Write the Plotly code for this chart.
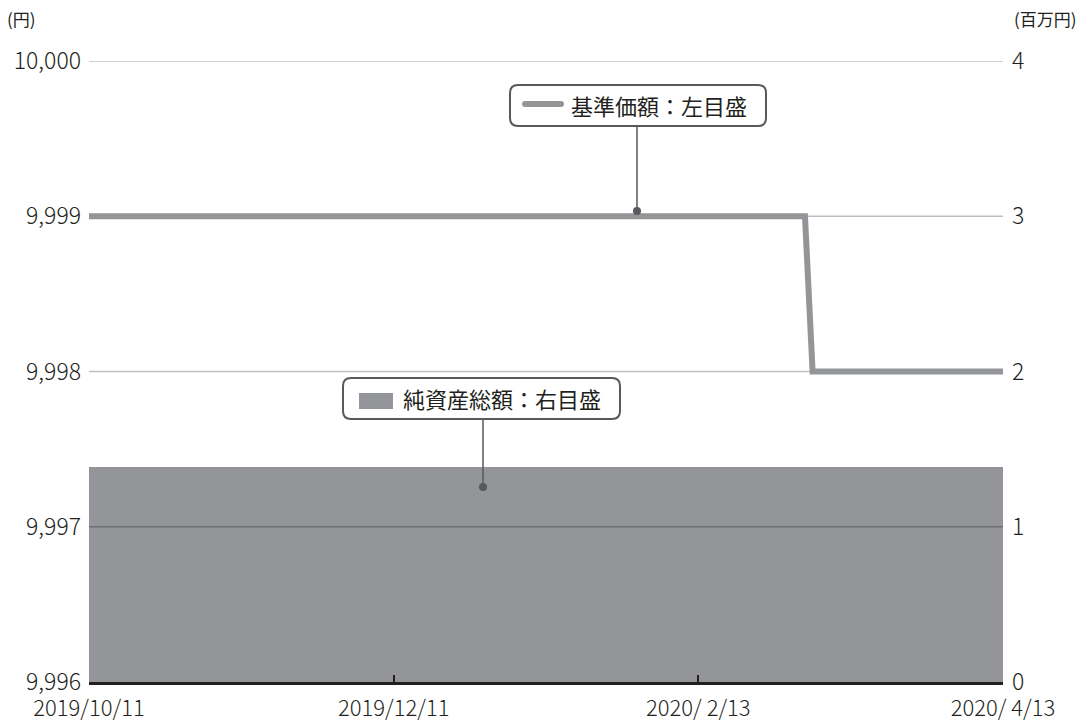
import pandas as pd
import plotly.graph_objects as go

# ---------------- data ----------------
start_date = "2019-10-11"
end_date = "2020-04-13"
market_holidays = ["2019-10-14", "2019-11-04", "2019-11-25", "2019-12-31",
                   "2020-01-01", "2020-01-02", "2020-01-03", "2020-01-13",
                   "2020-02-11", "2020-02-24", "2020-03-20"]
# 基準価額 (円): level held from each change date onward
nav_change_dates = ["2019-10-11", "2020-03-06"]
nav_levels = [9999, 9998]
# 純資産総額 (百万円): flat over the period
net_assets_level = 1.385

tick_dates = ["2019-10-11", "2019-12-11", "2020-02-13", "2020-04-13"]
tick_labels = ["2019/10/11", "2019/12/11", "2020/ 2/13", "2020/ 4/13"]
left_ticks = [9996, 9997, 9998, 9999, 10000]
right_ticks = [0, 1, 2, 3, 4]

# ---------------- build series ----------------
dates = [d.strftime("%Y-%m-%d") for d in pd.bdate_range(start_date, end_date)
         if d.strftime("%Y-%m-%d") not in market_holidays]
nav = []
for d in dates:
    lvl = nav_levels[0]
    for cd, lv in zip(nav_change_dates, nav_levels):
        if d >= cd:
            lvl = lv
    nav.append(lvl)
net_assets = [net_assets_level for _ in dates]

grid_x, grid_y = [], []
for t in right_ticks[1:]:
    grid_x += [dates[0], dates[-1], None]
    grid_y += [t, t, None]

# ---------------- styling helpers ----------------
W, H = 1085, 721
L, R, T, B = 89, 82, 61, 39
PW, PH = W - L - R, H - T - B
GRAY = "#939598"
DARK = "#231f20"
BOX = "#58595b"
FONT = "Noto Sans CJK JP"


def px(x):
    return (x - L) / PW


def py(y):
    return (H - B - y) / PH


def rounded_rect(x0, y0, x1, y1, r):
    X0, X1 = px(x0), px(x1)
    Y0, Y1 = py(y0), py(y1)
    rx, ry = r / PW, r / PH
    return (f"M{X0+rx},{Y0} L{X1-rx},{Y0} Q{X1},{Y0} {X1},{Y0-ry} "
            f"L{X1},{Y1+ry} Q{X1},{Y1} {X1-rx},{Y1} L{X0+rx},{Y1} "
            f"Q{X0},{Y1} {X0},{Y1+ry} L{X0},{Y0-ry} Q{X0},{Y0} {X0+rx},{Y0} Z")


fig = go.Figure()
fig.add_trace(go.Scatter(x=dates, y=net_assets, mode="lines", fill="tozeroy",
                         fillcolor=GRAY, line=dict(width=0, color=GRAY),
                         yaxis="y", hoverinfo="skip", showlegend=False))
fig.add_trace(go.Scatter(x=grid_x, y=grid_y, mode="lines",
                         line=dict(width=1.5, color="rgba(0,0,0,0.25)"),
                         yaxis="y", hoverinfo="skip", showlegend=False))
fig.add_trace(go.Scatter(x=dates, y=nav, mode="lines",
                         line=dict(width=6, color=GRAY),
                         yaxis="y2", hoverinfo="skip", showlegend=False))

shapes = []
# legend boxes
shapes.append(dict(type="path", xref="paper", yref="paper",
                   path=rounded_rect(510, 85, 766, 126, 8),
                   line=dict(color=BOX, width=2), fillcolor="white", layer="above"))
shapes.append(dict(type="path", xref="paper", yref="paper",
                   path=rounded_rect(343, 378, 620, 419, 8),
                   line=dict(color=BOX, width=2), fillcolor="white", layer="above"))
# legend symbols
shapes.append(dict(type="path", xref="paper", yref="paper",
                   path=rounded_rect(522, 101, 564, 107, 3),
                   line=dict(width=0), fillcolor=GRAY, layer="above"))
shapes.append(dict(type="rect", xref="paper", yref="paper",
                   x0=px(359), x1=px(393), y0=py(393), y1=py(409),
                   line=dict(width=0), fillcolor=GRAY, layer="above"))
# callouts
for (cx, ya, yb) in [(637, 126, 211), (483, 419, 487)]:
    shapes.append(dict(type="line", xref="paper", yref="paper",
                       x0=px(cx), x1=px(cx), y0=py(ya), y1=py(yb),
                       line=dict(color=BOX, width=1.5), layer="above"))
    shapes.append(dict(type="circle", xref="paper", yref="paper",
                       x0=px(cx - 4), x1=px(cx + 4), y0=py(yb - 4), y1=py(yb + 4),
                       line=dict(width=0), fillcolor=BOX, layer="above"))

annotations = [
    dict(text="基準価額：左目盛", xref="paper", yref="paper", x=px(569), y=py(105),
         xanchor="left", yanchor="middle", showarrow=False,
         font=dict(family=FONT, size=22, color=DARK)),
    dict(text="純資産総額：右目盛", xref="paper", yref="paper", x=px(401), y=py(398),
         xanchor="left", yanchor="middle", showarrow=False,
         font=dict(family=FONT, size=22, color=DARK)),
    dict(text="(円)", xref="paper", yref="paper", x=px(5), y=py(19),
         xanchor="left", yanchor="middle", showarrow=False,
         font=dict(family=FONT, size=17, color=DARK)),
    dict(text="(百万円)", xref="paper", yref="paper", x=px(1079), y=py(19),
         xanchor="right", yanchor="middle", showarrow=False,
         font=dict(family=FONT, size=17, color=DARK)),
]

ytickfont = dict(family=FONT, size=23, color=DARK, weight=300)
xtickfont = dict(family=FONT, size=22, color=DARK, weight=300)
fig.update_layout(
    width=W, height=H,
    margin=dict(l=L, r=R, t=T, b=B, pad=0, autoexpand=False),
    paper_bgcolor="white", plot_bgcolor="white",
    hovermode=False, showlegend=False,
    xaxis=dict(type="category", range=[0, len(dates) - 1],
               tickmode="array", tickvals=tick_dates, ticktext=tick_labels,
               ticks="inside", ticklen=7, tickwidth=2, tickcolor=DARK,
               showline=True, linecolor=DARK, linewidth=2.5,
               showgrid=False, zeroline=False, layer="above traces",
               tickfont=xtickfont, ticklabelstandoff=5, fixedrange=True,
               automargin=False),
    yaxis=dict(side="right", range=[0, 4], tickmode="array", tickvals=right_ticks,
               ticktext=[str(v) for v in right_ticks],
               showgrid=False, zeroline=False, showline=False, ticks="",
               tickfont=ytickfont, ticklabelstandoff=8, fixedrange=True,
               automargin=False),
    yaxis2=dict(side="left", overlaying="y", range=[9996, 10000],
                tickmode="array", tickvals=left_ticks,
                ticktext=[f"{v:,}" for v in left_ticks],
                showgrid=False, zeroline=False, showline=False, ticks="",
                tickfont=ytickfont, ticklabelstandoff=7, fixedrange=True,
                automargin=False),
    shapes=shapes, annotations=annotations,
)

fig.write_html("out.html", config={"displayModeBar": False, "staticPlot": True},
               post_script="document.body.style.margin='0';document.body.style.overflow='hidden';")
